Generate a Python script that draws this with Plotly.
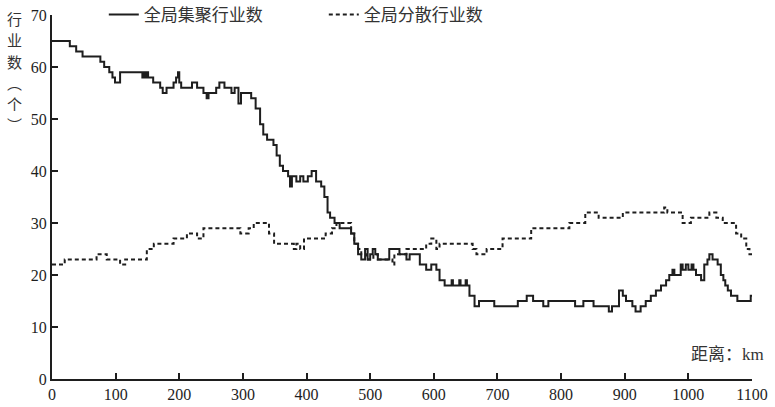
import plotly.graph_objects as go

# 全局集聚行业数 (step series: distance km -> count)
agg_km = [0, 28, 38, 48, 76, 82, 90, 95, 99, 107, 142, 144, 147, 149, 151, 159, 170, 174, 180,
          191, 195, 198, 200, 203, 220, 228, 238, 243, 246, 258, 263, 271, 282, 287, 293, 297,
          313, 320, 327, 332, 338, 348, 353, 358, 363, 371, 374, 377, 384, 390, 395, 402, 408,
          415, 423, 428, 433, 437, 444, 452, 470, 475, 481, 486, 492, 496, 500, 504, 508, 512,
          530, 546, 557, 562, 578, 588, 596, 604, 609, 617, 628, 630, 640, 642, 650, 652, 656,
          664, 671, 695, 732, 746, 756, 772, 780, 822, 835, 851, 875, 880, 891, 897, 902, 912,
          917, 925, 933, 941, 949, 957, 965, 970, 975, 978, 988, 991, 996, 1000, 1005, 1008,
          1012, 1020, 1025, 1030, 1033, 1038, 1046, 1051, 1055, 1058, 1062, 1067, 1077, 1098, 1100]
agg_val = [65, 64, 63, 62, 61, 60, 59, 58, 57, 59, 58, 59, 58, 59, 58, 57, 56, 55, 56,
           57, 58, 59, 57, 56, 57, 56, 55, 54, 55, 56, 57, 56, 55, 56, 53, 55,
           54, 52, 49, 47, 46, 45, 43, 41, 40, 39, 37, 39, 38, 39, 38, 39, 40,
           38, 37, 35, 32, 31, 30, 29, 28, 26, 24, 23, 25, 23, 24, 25, 24, 23,
           25, 24, 23, 24, 22, 21, 22, 21, 19, 18, 19, 18, 19, 18, 19, 18, 16,
           14, 15, 14, 15, 16, 15, 14, 15, 14, 15, 14, 13, 14, 17, 16, 15, 14,
           13, 14, 15, 16, 17, 18, 19, 20, 21, 20, 22, 21, 22, 21, 22, 21,
           20, 19, 22, 23, 24, 23, 22, 20, 19, 18, 17, 16, 15, 16, 16]

# 全局分散行业数
dis_km = [0, 20, 70, 86, 107, 115, 149, 160, 191, 212, 228, 238, 296, 309, 317, 341, 349, 380,
          384, 390, 396, 430, 440, 447, 470, 475, 481, 486, 495, 505, 512, 535, 538, 557, 588,
          596, 604, 609, 661, 667, 683, 708, 753, 813, 838, 859, 869, 897, 962, 967, 991, 1004,
          1033, 1044, 1054, 1075, 1083, 1091, 1096, 1100]
dis_val = [22, 23, 24, 23, 22, 23, 25, 26, 27, 28, 27, 29, 28, 29, 30, 28, 26, 25,
           26, 25, 27, 28, 29, 30, 28, 26, 25, 24, 23, 24, 23, 22, 24, 25, 26,
           27, 25, 26, 25, 24, 25, 27, 29, 30, 32, 31, 31, 32, 33, 32, 30, 31,
           32, 31, 30, 28, 27, 25, 24, 24]

x_ticks = [0, 100, 200, 300, 400, 500, 600, 700, 800, 900, 1000, 1100]
y_ticks = [0, 10, 20, 30, 40, 50, 60, 70]
y_title_chars = ["行", "业", "数", "︵", "个", "︶"]

SERIF = "Liberation Serif, Times New Roman, Noto Sans CJK SC, serif"
CJK = "Noto Sans CJK SC, sans-serif"
INK = "#1e1e1e"

fig = go.Figure()
fig.add_trace(go.Scatter(x=agg_km, y=agg_val, mode="lines", line_shape="hv",
                         name="全局集聚行业数",
                         line=dict(color=INK, width=2)))
fig.add_trace(go.Scatter(x=dis_km, y=dis_val, mode="lines", line_shape="hv",
                         name="全局分散行业数",
                         line=dict(color=INK, width=2, dash="4px,3px")))

fig.update_layout(
    width=775, height=407,
    margin=dict(l=52, r=23, t=15, b=28, autoexpand=False),
    paper_bgcolor="white", plot_bgcolor="white",
    font=dict(family=SERIF, size=16, color=INK),
    showlegend=True,
    legend=dict(orientation="h", x=0.074, y=1.0, xanchor="left", yanchor="middle",
                entrywidth=175, entrywidthmode="pixels",
                font=dict(family=CJK, size=17, color="#333"),
                bgcolor="rgba(0,0,0,0)"),
    xaxis=dict(range=[0, 1100], tickvals=x_ticks, ticks="inside", ticklen=6, tickwidth=2,
               tickcolor=INK, showline=True, linecolor=INK, linewidth=2, showgrid=False,
               zeroline=False, fixedrange=True),
    yaxis=dict(range=[0, 70], tickvals=y_ticks, ticks="inside", ticklen=6, tickwidth=2,
               tickcolor=INK, showline=True, linecolor=INK, linewidth=2, showgrid=False,
               zeroline=False, fixedrange=True),
)

# vertical y-axis title, one character per row
for i, ch in enumerate(y_title_chars):
    py = 19 + i * 21
    fig.add_annotation(xref="paper", yref="paper", x=-0.053, y=(379 - py) / 364,
                       xanchor="center", yanchor="middle", text=ch, showarrow=False,
                       borderpad=0,
                       font=dict(family=CJK, size=15, color="#333"))

fig.add_annotation(xref="paper", yref="paper", x=1.02, y=0.066, xanchor="right", yanchor="middle",
                   text="距离：km", showarrow=False,
                   font=dict(family="Liberation Serif, Noto Sans CJK SC, serif", size=17, color="#333"))

fig.write_html("out.html", config={"displayModeBar": False},
               post_script="document.body.style.margin='0';")
